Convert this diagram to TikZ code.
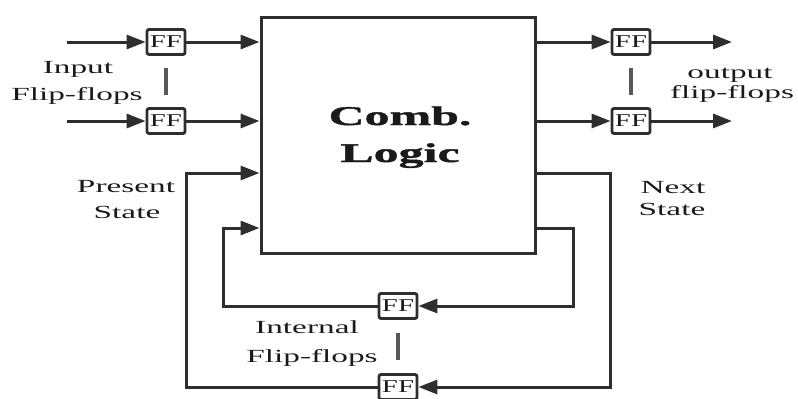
\documentclass[tikz,border=0pt]{standalone}
\usepackage{fontspec}
\setmainfont{Liberation Serif}
\newfontfamily\lblfont[FakeStretch=1.8]{Liberation Serif}
\newfontfamily\fffont[FakeStretch=1.6]{Liberation Serif}
\newfontfamily\combfont[FakeStretch=1.85,FakeBold=1.5]{Liberation Serif}
\usetikzlibrary{arrows.meta}
\definecolor{wire}{HTML}{2E2E2E}
\definecolor{ink}{HTML}{1A1A1A}
\tikzset{
  wireline/.style={draw=wire, line width=3pt},
  arr/.style={wireline, -{Triangle[length=19pt,width=14pt]}},
  ffbox/.style={draw=wire, line width=2.8pt, rounded corners=2pt, fill=white,
    minimum width=38pt, minimum height=25pt, inner sep=0pt,
    text=ink, font=\fffont\fontsize{18}{18}\selectfont},
  lbl/.style={anchor=base, inner sep=0pt, text=ink,
    font=\lblfont\fontsize{18.5}{18.5}\selectfont},
  sepbar/.style={draw=wire!80, line width=3.2pt},
}
\begin{document}
\begin{tikzpicture}[x=1pt,y=-1pt]
\useasboundingbox (0,0) rectangle (798,399);

% combinational logic block
\node[draw=wire, line width=3pt, minimum width=274pt, minimum height=236pt,
      inner sep=0pt] (cl) at (398,135) {};
\node[anchor=base, inner sep=0pt, text=ink,
      font=\combfont\bfseries\fontsize{27}{27}\selectfont] (comb) at (400,125) {Comb.};
\node[anchor=base, inner sep=0pt, text=ink,
      font=\combfont\bfseries\fontsize{27}{27}\selectfont] (logic) at (400,162) {Logic};

% flip-flops
\node[ffbox] (fi1) at (166,42) {FF};
\node[ffbox] (fi2) at (166,121) {FF};
\node[ffbox] (fo1) at (631,42) {FF};
\node[ffbox] (fo2) at (631,121) {FF};
\node[ffbox] (fn1) at (398,306) {FF};
\node[ffbox] (fn2) at (398,387) {FF};

% free ends and loop corners
\coordinate (in1) at (67,42);
\coordinate (in2) at (67,121);
\coordinate (out1) at (732,42);
\coordinate (out2) at (732,121);
\coordinate (nsR) at (610,173);
\coordinate (psL) at (186,173);
\coordinate (isR) at (573,228);
\coordinate (isL) at (223,228);

% inputs
\draw[arr] (in1) -- (fi1);
\draw[arr] (in2) -- (fi2);
\draw[arr] (fi1) -- (cl.west |- fi1);
\draw[arr] (fi2) -- (cl.west |- fi2);

% outputs
\draw[arr] (cl.east |- fo1) -- (fo1);
\draw[arr] (cl.east |- fo2) -- (fo2);
\draw[arr] (fo1) -- (out1);
\draw[arr] (fo2) -- (out2);

% state feedback, outer loop
\draw[arr] (cl.east |- nsR) -- (nsR) |- (fn2);
\draw[arr] (fn2) -| (psL) -- (cl.west |- psL);

% state feedback, inner loop
\draw[arr] (cl.east |- isR) -- (isR) |- (fn1);
\draw[arr] (fn1) -| (isL) -- (cl.west |- isL);

% ellipsis bars between flip-flops
\draw[sepbar] (166,68) -- (166,95);
\draw[sepbar] (631,68) -- (631,95);
\draw[sepbar] (398,333) -- (398,360);

% labels
\node[lbl] (inA) at (78,73) {Input};
\node[lbl] (inB) at (77,100) {Flip-flops};
\node[lbl] (psA) at (126,192) {Present};
\node[lbl] (psB) at (127,218) {State};
\node[lbl] (outA) at (730,78) {output};
\node[lbl] (outB) at (732,98) {flip-flops};
\node[lbl] (nsA) at (673,193) {Next};
\node[lbl] (nsB) at (672,215) {State};
\node[lbl] (itA) at (307,333) {Internal};
\node[lbl] (itB) at (312,362) {Flip-flops};
\end{tikzpicture}
\end{document}
